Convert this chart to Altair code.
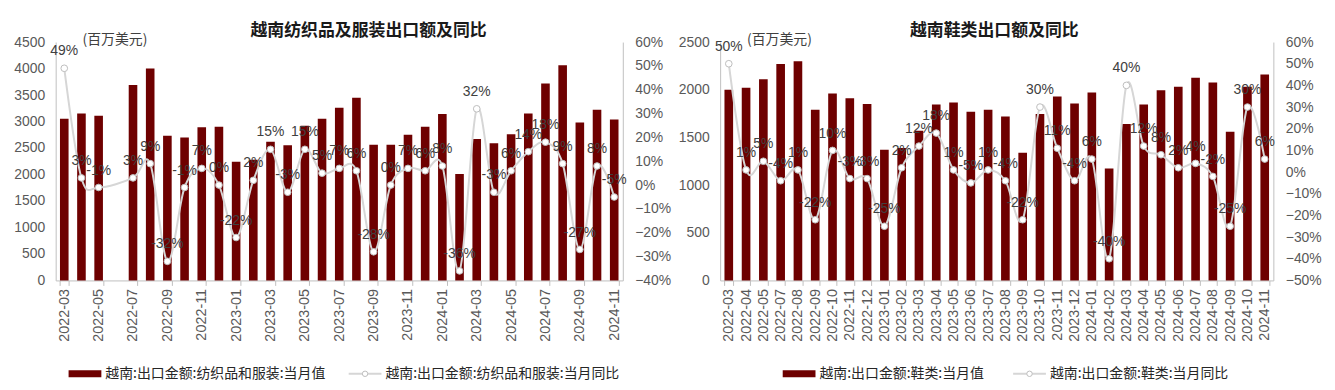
import altair as alt
import pandas as pd

# ---------------- data ----------------
months_tex = ["2022-03", "2022-04", "2022-05", "2022-06", "2022-07", "2022-08", "2022-09", "2022-10",
              "2022-11", "2022-12", "2023-01", "2023-02", "2023-03", "2023-04", "2023-05", "2023-06",
              "2023-07", "2023-08", "2023-09", "2023-10", "2023-11", "2023-12", "2024-01", "2024-02",
              "2024-03", "2024-04", "2024-05", "2024-06", "2024-07", "2024-08", "2024-09", "2024-10",
              "2024-11"]
tex_value = [3050, 3150, 3110, None, 3690, 4000, 2730, 2700, 2890, 2900, 2240, 2280, 2620, 2550,
             2920, 3050, 3260, 3450, 2560, 2560, 2750, 2900, 3140, 2010, 2670, 2590, 2760, 3150,
             3720, 4060, 2980, 3220, 3040]
tex_yoy = [49, 3, -1, None, 3, 9, -32, -1, 7, 0, -22, 2, 15, -3, 15, 5, 7, 6, -28, 0, 7, 6, 8,
           -36, 32, -3, 6, 14, 18, 9, -27, 8, -5]

months_shoe = ["2022-03", "2022-04", "2022-05", "2022-07", "2022-08", "2022-09", "2022-10", "2022-11",
               "2022-12", "2023-01", "2023-02", "2023-03", "2023-04", "2023-05", "2023-06", "2023-07",
               "2023-08", "2023-09", "2023-10", "2023-11", "2023-12", "2024-01", "2024-02", "2024-03",
               "2024-04", "2024-05", "2024-06", "2024-07", "2024-08", "2024-09", "2024-10", "2024-11"]
shoe_value = [2000, 2020, 2110, 2270, 2300, 1790, 1960, 1910, 1850, 1370, 1390, 1570, 1845, 1865,
              1770, 1790, 1720, 1340, 1745, 1930, 1855, 1970, 1175, 1640, 1845, 1995, 2030, 2125,
              2075, 1560, 2030, 2160]
shoe_yoy = [50, 1, 5, -4, 1, -22, 10, -3, -3, -25, 2, 12, 18, 1, -5, 1, -4, -22, 30, 11, -4, 6,
            -40, 40, 12, 8, 2, 4, -2, -25, 30, 6]

title_tex = "越南纺织品及服装出口额及同比"
title_shoe = "越南鞋类出口额及同比"
legend_tex = ["越南:出口金额:纺织品和服装:当月值", "越南:出口金额:纺织品和服装:当月同比"]
legend_shoe = ["越南:出口金额:鞋类:当月值", "越南:出口金额:鞋类:当月同比"]
unit_text = "(百万美元)"

# ---------------- style ----------------
BAR = "#6E0000"
LINE = "#D6D6D6"
AX = "#BFBFBF"
LBL = "#595959"
NUM = "Liberation Sans"
CJK = "Noto Sans CJK SC"
H = 240


def panel(months, values, yoy, vmax, ymin, title, title_x, legend, sw_x0, txt1_x, w, label_vals):
    df = pd.DataFrame({"month": months, "value": values, "yoy": yoy})
    df_bar = df.dropna(subset=["value"])[["month", "value"]]
    df_line = df.dropna(subset=["yoy"])[["month", "yoy"]].copy()
    df_line["lbl"] = df_line["yoy"].map(lambda v: f"{int(v)}%")

    xaxis = alt.Axis(
        title=None, labelAngle=-90, labelFont=NUM, labelFontSize=14.5, labelColor=LBL,
        domainColor=AX, ticks=True, tickBand="extent", tickColor=AX, tickSize=5,
        labelPadding=3, labelOverlap=False, values=label_vals,
    )
    xenc = alt.X("month:N", sort=months,
                 scale=alt.Scale(domain=months, paddingInner=0.5, paddingOuter=0.25),
                 axis=xaxis)

    bars = alt.Chart(df_bar).mark_bar(color=BAR).encode(
        x=xenc,
        y=alt.Y("value:Q", scale=alt.Scale(domain=[0, vmax], nice=False),
                axis=alt.Axis(values=list(range(0, vmax + 1, 500)), format="d", title=None,
                              orient="left", ticks=False, grid=False, domainColor=AX,
                              labelPadding=11, labelFontSize=14, labelColor=LBL, labelFont=NUM)),
    )

    yy = alt.Y("yoy:Q", scale=alt.Scale(domain=[ymin, 60], nice=False),
               axis=alt.Axis(orient="right", values=list(range(ymin, 61, 10)),
                             format="d", labelExpr="datum.label + '%'", title=None, ticks=False,
                             grid=False, domainColor=AX, labelPadding=12, labelFontSize=14,
                             labelColor=LBL, labelFont=NUM))
    base = alt.Chart(df_line)
    line = base.mark_line(color=LINE, strokeWidth=2, interpolate="cardinal").encode(x=xenc, y=yy)
    pts = base.mark_point(shape="circle", filled=True, fill="white", stroke="#BDBDBD",
                          strokeWidth=1, size=45, opacity=1).encode(x=xenc, y=yy)
    txt = base.mark_text(font=NUM, fontSize=14, color="#404040", dy=-17,
                         baseline="middle").encode(x=xenc, y=yy, text="lbl:N")
    yoy_layer = alt.layer(line, pts, txt)

    # annotation layer: title, unit and legend (positions in pixels)
    ly = 334
    ann = pd.DataFrame({
        "t": [title, unit_text, legend[0], legend[1]],
        "px": [title_x, 27, txt1_x, 332],
        "py": [-11, -2, ly, ly],
        "kind": ["title", "unit", "leg", "leg"],
    })
    ttl = alt.Chart(ann).transform_filter("datum.kind == 'title'").mark_text(
        align="center", baseline="middle", font=CJK, fontSize=17, fontWeight="bold",
        color="#1a1a1a").encode(x=alt.X("px:Q", scale=None), y=alt.Y("py:Q", scale=None), text="t:N")
    unit = alt.Chart(ann).transform_filter("datum.kind == 'unit'").mark_text(
        align="left", baseline="middle", font=CJK, fontSize=14, color="#404040").encode(
        x=alt.X("px:Q", scale=None), y=alt.Y("py:Q", scale=None), text="t:N")
    legt = alt.Chart(ann).transform_filter("datum.kind == 'leg'").mark_text(
        align="left", baseline="middle", font=CJK, fontSize=14, color="#262626").encode(
        x=alt.X("px:Q", scale=None), y=alt.Y("py:Q", scale=None), text="t:N")

    sym = pd.DataFrame({"x1": [sw_x0, 295], "x2": [sw_x0 + 33, 328], "y1": [ly - 3.5, ly],
                        "y2": [ly + 3.5, ly], "kind": ["bar", "line"]})
    sw = alt.Chart(sym).transform_filter("datum.kind == 'bar'").mark_rect(color=BAR).encode(
        x=alt.X("x1:Q", scale=None), x2="x2:Q", y=alt.Y("y1:Q", scale=None), y2="y2:Q")
    lr = alt.Chart(sym).transform_filter("datum.kind == 'line'").mark_rule(
        color=LINE, strokeWidth=2).encode(
        x=alt.X("x1:Q", scale=None), x2="x2:Q", y=alt.Y("y1:Q", scale=None))
    lp = alt.Chart(sym).transform_filter("datum.kind == 'line'").transform_calculate(
        xm="(datum.x1 + datum.x2) / 2").mark_point(
        shape="circle", filled=True, fill="white", stroke="#BDBDBD", strokeWidth=1, size=30,
        opacity=1).encode(x=alt.X("xm:Q", scale=None), y=alt.Y("y1:Q", scale=None))

    return alt.layer(bars, yoy_layer).resolve_scale(y="independent").properties(
        width=w, height=H), alt.layer(ttl, unit, legt, sw, lr, lp).properties(width=w, height=H)


tex_labels = [m for m in months_tex if int(m[5:]) % 2 == 1]
lc, la = panel(months_tex, tex_value, tex_yoy, 4500, -40, title_tex, 315, legend_tex, 13, 50, 571, tex_labels)
rc, ra = panel(months_shoe, shoe_value, shoe_yoy, 2500, -50, title_shoe, 276, legend_shoe, 63, 100, 557, months_shoe)

left = alt.layer(lc, la)
right = alt.layer(rc, ra)

chart = alt.hconcat(left, right, spacing=6).properties(
    padding={"left": 5, "top": 13, "right": 5, "bottom": 5},
    background="white",
).configure_view(stroke=None)

chart.save("out.html", embed_options={"renderer": "svg", "actions": False})
